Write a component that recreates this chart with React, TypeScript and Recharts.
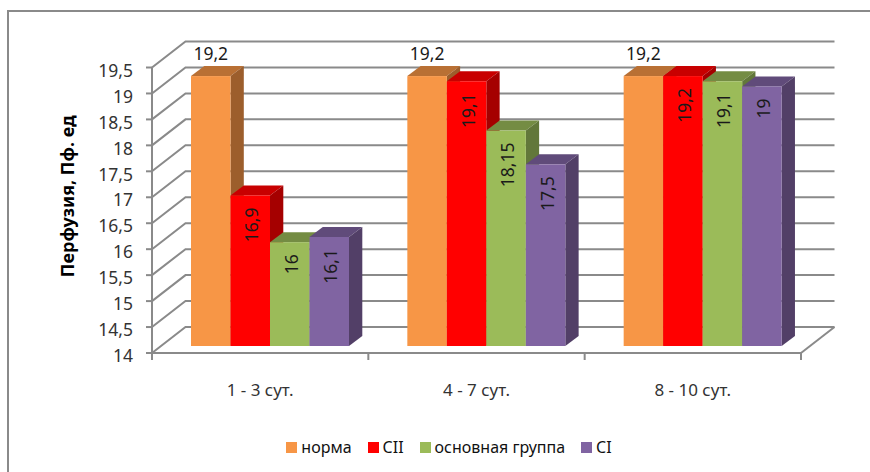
import { ComposedChart, Bar, XAxis, YAxis, CartesianGrid, Legend, LabelList } from "recharts";

const periods = ["1 - 3 сут.", "4 - 7 сут.", "8 - 10 сут."];
const norma = [19.2, 19.2, 19.2];
const cii = [16.9, 19.1, 19.2];
const mainGroup = [16, 18.15, 19.1];
const ci = [16.1, 17.5, 19];
const yTicks = [14, 14.5, 15, 15.5, 16, 16.5, 17, 17.5, 18, 18.5, 19, 19.5];

const data = periods.map((period, i) => ({
  period,
  norma: norma[i],
  cii: cii[i],
  mainGroup: mainGroup[i],
  ci: ci[i],
}));

const FONT = "'Noto Sans', sans-serif";
const LINE = "#8a8a8a";
const WALL_DX = 33.5;
const WALL_DY = 26;
const BAR_SHIFT_X = 10;
const BAR_SHIFT_Y = -7;
const BAR_DX = 13.3;
const BAR_DY = 10;

const comma = (v: number) => String(v).replace(".", ",");

function box3d(p: any, top: string, side: string) {
  const x = p.x + BAR_SHIFT_X;
  const y = p.y + BAR_SHIFT_Y;
  const w = p.width;
  const h = p.height;
  return (
    <g>
      <polygon points={`${x},${y} ${x + BAR_DX},${y - BAR_DY} ${x + w + BAR_DX},${y - BAR_DY} ${x + w},${y}`} fill={top} />
      <polygon points={`${x + w},${y} ${x + w + BAR_DX},${y - BAR_DY} ${x + w + BAR_DX},${y + h - BAR_DY} ${x + w},${y + h}`} fill={side} />
      <rect x={x} y={y} width={w} height={h} fill={p.fill} />
    </g>
  );
}

function gridLine(p: any) {
  const bottom = Math.abs(p.y1 - (p.y + p.height)) < 1;
  return (
    <g key={p.key}>
      <polyline
        points={`${p.x1},${p.y1} ${p.x1 + WALL_DX},${p.y1 - WALL_DY} ${p.x2 + WALL_DX},${p.y1 - WALL_DY}`}
        fill="none"
        stroke={LINE}
        strokeWidth={2}
      />
      {bottom && <line x1={p.x2} y1={p.y1} x2={p.x2 + WALL_DX} y2={p.y1 - WALL_DY} stroke={LINE} strokeWidth={2} />}
    </g>
  );
}

function periodTick(p: any) {
  const half = p.payload.offset ?? 108;
  return (
    <g>
      <line x1={p.x - half} y1={p.y - 8} x2={p.x - half} y2={p.y - 1} stroke={LINE} strokeWidth={2} />
      {p.index === periods.length - 1 && (
        <line x1={p.x + half} y1={p.y - 8} x2={p.x + half} y2={p.y - 1} stroke={LINE} strokeWidth={2} />
      )}
      <text x={p.x} y={p.y + 35} textAnchor="middle" fontSize={17} fontFamily={FONT} fill="#333">
        {p.payload.value}
      </text>
    </g>
  );
}

function topLabel(p: any) {
  return (
    <text
      x={p.x + BAR_SHIFT_X + p.width / 2}
      y={p.y + BAR_SHIFT_Y - 16}
      textAnchor="middle"
      fontSize={17.5}
      fontFamily={FONT}
      fill="#1a1a1a"
    >
      {comma(p.value)}
    </text>
  );
}

function insideLabel(p: any) {
  const cx = p.x + BAR_SHIFT_X + p.width / 2 + 8;
  const cy = p.y + BAR_SHIFT_Y + 12;
  return (
    <text
      x={cx}
      y={cy}
      transform={`rotate(-90 ${cx} ${cy})`}
      textAnchor="end"
      fontSize={17.5}
      fontFamily={FONT}
      fill="#1a1a1a"
    >
      {comma(p.value)}
    </text>
  );
}

function legendContent(props: any) {
  return (
    <div style={{ display: "flex", justifyContent: "center", gap: 16, fontFamily: FONT, fontSize: 16, color: "#111" }}>
      {props.payload.map((item: any) => (
        <span key={item.value} style={{ display: "flex", alignItems: "center" }}>
          <span style={{ width: 11, height: 11, background: item.color, marginRight: 4 }} />
          {item.value}
        </span>
      ))}
    </div>
  );
}

export default function App() {
  return (
    <div style={{ position: "absolute", left: 0, top: 0, width: 870, height: 472, overflow: "hidden", background: "#fff" }}>
      <div style={{ position: "absolute", left: 7, top: 10, width: 900, height: 500, borderLeft: `2px solid ${LINE}`, borderTop: `2px solid ${LINE}` }} />
      <ComposedChart
        width={870}
        height={472}
        data={data}
        barSize={39.5}
        barGap={0}
        margin={{ top: 67.5, right: 69, bottom: 67, left: 92 }}
        style={{ position: "absolute", left: 0, top: 0 }}
      >
        <CartesianGrid horizontal={gridLine} vertical={false} />
        <XAxis
          dataKey="period"
          height={30}
          interval={0}
          stroke={LINE}
          strokeWidth={2}
          tickLine={false}
          tick={periodTick}
        />
        <YAxis
          domain={[14, 19.5]}
          ticks={yTicks}
          interval={0}
          width={60}
          stroke={LINE}
          strokeWidth={2}
          tickSize={6}
          tickMargin={13}
          tickFormatter={comma}
          tick={{ fontSize: 17.5, fontFamily: FONT, fill: "#333", dy: 3 }}
          label={{
            value: "Перфузия, Пф. ед",
            angle: -90,
            position: "insideLeft",
            dx: -29,
            dy: 67,
            style: { fontSize: 18, fontWeight: 700, fontFamily: FONT, fill: "#000" },
          }}
        />
        <Legend itemSorter={null} content={legendContent} wrapperStyle={{ top: 436, left: 14, width: 870 }} />
        <Bar dataKey="norma" name="норма" fill="#F79646" isAnimationActive={false} shape={(p: any) => box3d(p, "#B97034", "#9C5E2C")}>
          <LabelList dataKey="norma" content={topLabel} />
        </Bar>
        <Bar dataKey="cii" name="CII" fill="#FF0000" isAnimationActive={false} shape={(p: any) => box3d(p, "#C80000", "#A50000")}>
          <LabelList dataKey="cii" content={insideLabel} />
        </Bar>
        <Bar dataKey="mainGroup" name="основная группа" fill="#9BBB59" isAnimationActive={false} shape={(p: any) => box3d(p, "#748C43", "#62773A")}>
          <LabelList dataKey="mainGroup" content={insideLabel} />
        </Bar>
        <Bar dataKey="ci" name="CI" fill="#8064A2" isAnimationActive={false} shape={(p: any) => box3d(p, "#604B7A", "#523F67")}>
          <LabelList dataKey="ci" content={insideLabel} />
        </Bar>
      </ComposedChart>
    </div>
  );
}
